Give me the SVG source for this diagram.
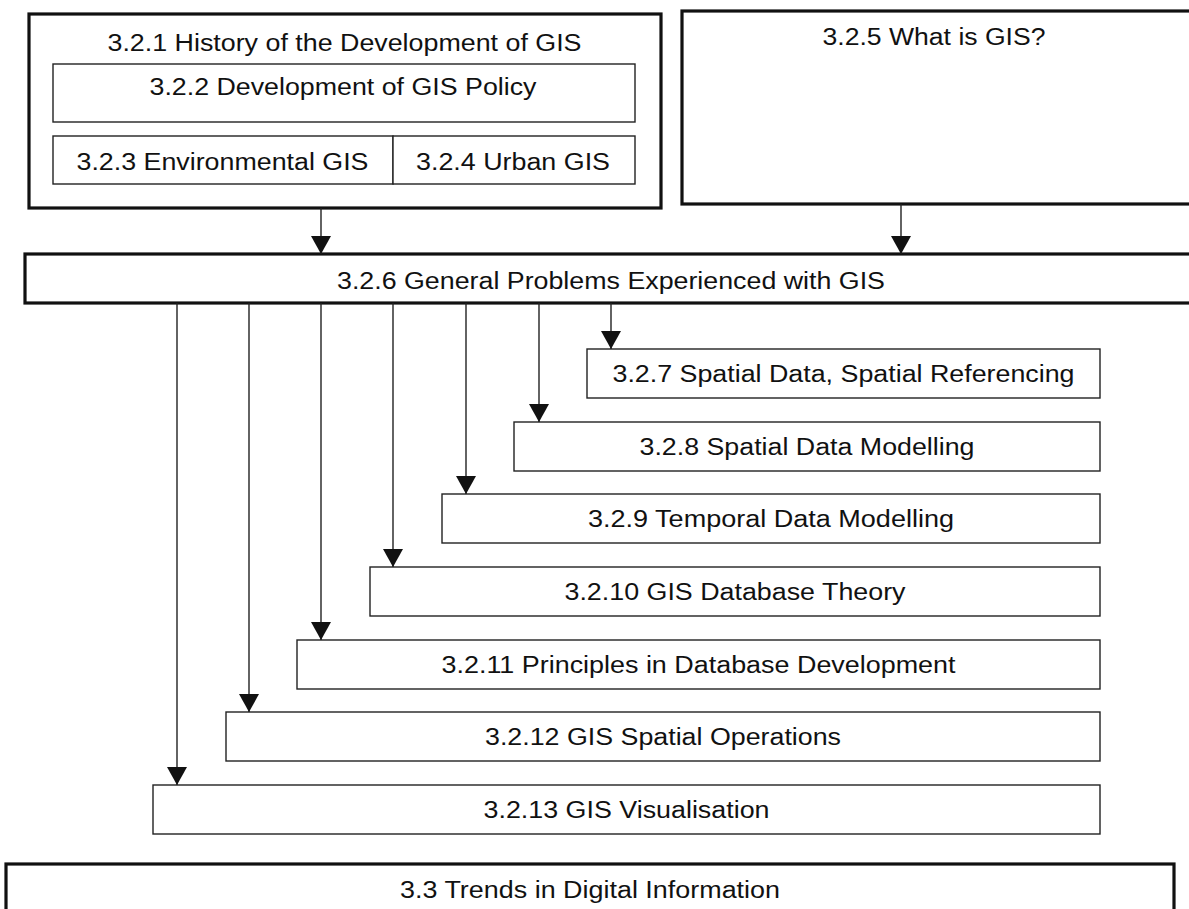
<svg xmlns="http://www.w3.org/2000/svg" width="1189" height="909" viewBox="0 0 1189 909">
  <style>
    .bg { fill: #ffffff; }
    .outer { fill: #ffffff; stroke: #111; stroke-width: 3.2; }
    .inner { fill: #ffffff; stroke: #222; stroke-width: 1.4; }
    .lbl { font-family: "Liberation Sans", Arial, sans-serif; font-size: 23px; fill: #111; text-anchor: middle; }
    .conn { fill: none; stroke: #222; stroke-width: 1.4; marker-end: url(#arrow); }
  </style>
  <defs>
    <marker id="arrow" viewBox="0 0 18 20" refX="18" refY="10" markerWidth="18" markerHeight="20" markerUnits="userSpaceOnUse" orient="auto">
      <path d="M0,0 L18,10 L0,20 Z" fill="#111"/>
    </marker>
  </defs>

  <rect class="bg" x="0" y="0" width="1189" height="909"/>

  <!-- top-left container with its sub-sections -->
  <g id="n321">
    <rect class="outer" x="29" y="14" width="632" height="194"/>
    <text class="lbl" x="344.5" y="51" textLength="474" lengthAdjust="spacingAndGlyphs">3.2.1 History of the Development of GIS</text>
  </g>
  <g id="n322">
    <rect class="inner" x="53" y="64" width="582" height="58"/>
    <text class="lbl" x="343" y="95" textLength="387" lengthAdjust="spacingAndGlyphs">3.2.2 Development of GIS Policy</text>
  </g>
  <g id="n323">
    <rect class="inner" x="53" y="136" width="340" height="48"/>
    <text class="lbl" x="222.5" y="170" textLength="292" lengthAdjust="spacingAndGlyphs">3.2.3 Environmental GIS</text>
  </g>
  <g id="n324">
    <rect class="inner" x="393" y="136" width="242" height="48"/>
    <text class="lbl" x="513" y="170" textLength="194" lengthAdjust="spacingAndGlyphs">3.2.4 Urban GIS</text>
  </g>

  <g id="n325">
    <rect class="outer" x="682" y="11" width="520" height="193"/>
    <text class="lbl" x="934" y="45" textLength="223" lengthAdjust="spacingAndGlyphs">3.2.5 What is GIS?</text>
  </g>

  <g id="n326">
    <rect class="outer" x="25" y="254" width="1180" height="49"/>
    <text class="lbl" x="611" y="289" textLength="548" lengthAdjust="spacingAndGlyphs">3.2.6 General Problems Experienced with GIS</text>
  </g>

  <!-- staircase of sub-topics -->
  <g id="n327">
    <rect class="inner" x="587" y="349" width="513" height="49"/>
    <text class="lbl" x="843.5" y="382" textLength="462" lengthAdjust="spacingAndGlyphs">3.2.7 Spatial Data, Spatial Referencing</text>
  </g>
  <g id="n328">
    <rect class="inner" x="514" y="422" width="586" height="49"/>
    <text class="lbl" x="807" y="455" textLength="335" lengthAdjust="spacingAndGlyphs">3.2.8 Spatial Data Modelling</text>
  </g>
  <g id="n329">
    <rect class="inner" x="442" y="494" width="658" height="49"/>
    <text class="lbl" x="771" y="527" textLength="366" lengthAdjust="spacingAndGlyphs">3.2.9 Temporal Data Modelling</text>
  </g>
  <g id="n3210">
    <rect class="inner" x="370" y="567" width="730" height="49"/>
    <text class="lbl" x="735" y="600" textLength="341" lengthAdjust="spacingAndGlyphs">3.2.10 GIS Database Theory</text>
  </g>
  <g id="n3211">
    <rect class="inner" x="297" y="640" width="803" height="49"/>
    <text class="lbl" x="698.5" y="673" textLength="514" lengthAdjust="spacingAndGlyphs">3.2.11 Principles in Database Development</text>
  </g>
  <g id="n3212">
    <rect class="inner" x="226" y="712" width="874" height="49"/>
    <text class="lbl" x="663" y="745" textLength="356" lengthAdjust="spacingAndGlyphs">3.2.12 GIS Spatial Operations</text>
  </g>
  <g id="n3213">
    <rect class="inner" x="153" y="785" width="947" height="49"/>
    <text class="lbl" x="626.5" y="818" textLength="286" lengthAdjust="spacingAndGlyphs">3.2.13 GIS Visualisation</text>
  </g>

  <g id="n33">
    <rect class="outer" x="6" y="864" width="1168" height="60"/>
    <text class="lbl" x="590" y="898" textLength="380" lengthAdjust="spacingAndGlyphs">3.3 Trends in Digital Information</text>
  </g>

  <!-- connectors -->
  <g id="connectors">
    <line class="conn" x1="321" y1="208" x2="321" y2="254"/>
    <line class="conn" x1="901" y1="204" x2="901" y2="254"/>
    <line class="conn" x1="611" y1="303" x2="611" y2="349"/>
    <line class="conn" x1="539" y1="303" x2="539" y2="422"/>
    <line class="conn" x1="466" y1="303" x2="466" y2="494"/>
    <line class="conn" x1="393" y1="303" x2="393" y2="567"/>
    <line class="conn" x1="321" y1="303" x2="321" y2="640"/>
    <line class="conn" x1="249" y1="303" x2="249" y2="712"/>
    <line class="conn" x1="177" y1="303" x2="177" y2="785"/>
  </g>
</svg>
